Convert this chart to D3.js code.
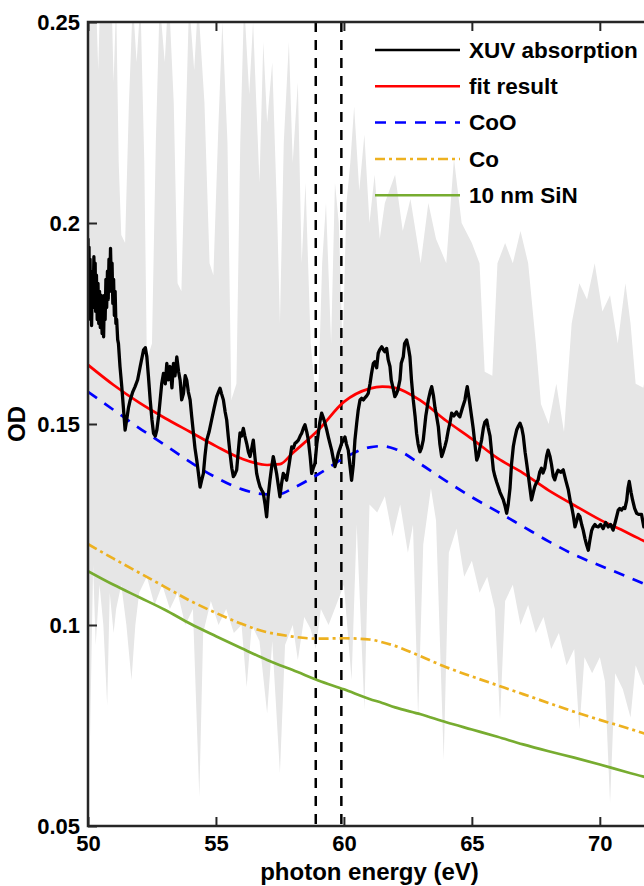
<!DOCTYPE html>
<html>
<head>
<meta charset="utf-8">
<script src="https://cdn.jsdelivr.net/npm/d3@7"></script>
<style>
    body { margin: 0; background: #fff; }
    text { font-family: "Liberation Sans", Arial, Helvetica, sans-serif; font-weight: bold; fill: #000; }
</style>
</head>
<body>
<div class="container"></div>
<script>
// measured XUV absorption, [photon energy (eV), OD]
const xuvAbsorption = [
    [50.00,0.1962],[50.02,0.1790],[50.04,0.1940],[50.06,0.1770],[50.08,0.1910],[50.10,0.1760],[50.12,0.1880],
    [50.14,0.1745],[50.17,0.1860],[50.20,0.1790],[50.23,0.1916],[50.25,0.1820],[50.28,0.1900],[50.30,0.1780],
    [50.33,0.1870],[50.36,0.1760],[50.39,0.1850],[50.42,0.1750],[50.45,0.1830],[50.48,0.1740],[50.52,0.1820],
    [50.55,0.1725],[50.58,0.1800],[50.61,0.1717],[50.64,0.1820],[50.67,0.1760],[50.70,0.1860],[50.73,0.1790],
    [50.76,0.1880],[50.79,0.1810],[50.82,0.1910],[50.85,0.1830],[50.88,0.1937],[50.91,0.1850],[50.94,0.1900],
    [50.97,0.1800],[51.00,0.1860],[51.03,0.1770],[51.06,0.1830],[51.09,0.1750],[51.12,0.1760],[51.16,0.1710],
    [51.19,0.1700],[51.25,0.1643],[51.32,0.1593],[51.38,0.1543],[51.45,0.1485],[51.51,0.1510],[51.58,0.1540],
    [51.65,0.1560],[51.75,0.1580],[51.84,0.1593],[51.94,0.1610],[52.04,0.1643],[52.17,0.1684],[52.24,0.1690],
    [52.30,0.1667],[52.36,0.1620],[52.43,0.1560],[52.50,0.1510],[52.56,0.1477],[52.63,0.1470],[52.69,0.1485],
    [52.76,0.1520],[52.82,0.1560],[52.88,0.1600],[52.95,0.1626],[53.02,0.1600],[53.08,0.1651],[53.14,0.1610],
    [53.21,0.1643],[53.28,0.1590],[53.34,0.1651],[53.40,0.1620],[53.47,0.1667],[53.54,0.1630],[53.60,0.1609],
    [53.66,0.1560],[53.73,0.1576],[53.80,0.1620],[53.86,0.1609],[53.92,0.1580],[53.99,0.1560],[54.05,0.1520],
    [54.12,0.1477],[54.18,0.1440],[54.25,0.1410],[54.31,0.1380],[54.38,0.1343],[54.44,0.1360],[54.51,0.1377],
    [54.57,0.1420],[54.64,0.1460],[54.73,0.1480],[54.83,0.1510],[54.93,0.1540],[55.03,0.1568],[55.10,0.1580],
    [55.16,0.1589],[55.22,0.1575],[55.29,0.1560],[55.36,0.1530],[55.42,0.1510],[55.48,0.1470],[55.55,0.1427],
    [55.62,0.1390],[55.68,0.1369],[55.74,0.1375],[55.81,0.1386],[55.87,0.1430],[55.94,0.1478],[56.00,0.1470],
    [56.07,0.1489],[56.13,0.1470],[56.20,0.1452],[56.27,0.1430],[56.33,0.1419],[56.40,0.1440],[56.46,0.1460],
    [56.52,0.1420],[56.59,0.1377],[56.65,0.1360],[56.72,0.1344],[56.79,0.1335],[56.85,0.1328],[56.92,0.1300],
    [56.98,0.1269],[57.04,0.1320],[57.11,0.1360],[57.17,0.1390],[57.24,0.1419],[57.30,0.1400],[57.37,0.1377],
    [57.43,0.1350],[57.50,0.1319],[57.56,0.1350],[57.63,0.1377],[57.70,0.1370],[57.76,0.1360],[57.86,0.1400],
    [57.96,0.1443],[58.03,0.1440],[58.09,0.1452],[58.15,0.1455],[58.22,0.1460],[58.29,0.1470],[58.35,0.1477],
    [58.42,0.1490],[58.48,0.1498],[58.55,0.1480],[58.61,0.1460],[58.68,0.1420],[58.74,0.1377],[58.80,0.1390],
    [58.87,0.1402],[58.94,0.1450],[59.00,0.1477],[59.06,0.1505],[59.13,0.1527],[59.20,0.1515],[59.26,0.1502],
    [59.33,0.1485],[59.39,0.1468],[59.46,0.1450],[59.52,0.1435],[59.58,0.1415],[59.65,0.1394],[59.72,0.1410],
    [59.78,0.1427],[59.85,0.1440],[59.91,0.1452],[59.98,0.1460],[60.04,0.1468],[60.10,0.1450],[60.17,0.1435],
    [60.24,0.1395],[60.30,0.1360],[60.37,0.1400],[60.43,0.1460],[60.50,0.1502],[60.56,0.1535],[60.63,0.1560],
    [60.69,0.1564],[60.76,0.1560],[60.82,0.1565],[60.89,0.1570],[60.95,0.1576],[61.02,0.1600],[61.08,0.1626],
    [61.15,0.1651],[61.21,0.1655],[61.28,0.1640],[61.34,0.1676],[61.40,0.1685],[61.48,0.1692],[61.54,0.1685],
    [61.60,0.1680],[61.67,0.1688],[61.73,0.1660],[61.80,0.1643],[61.85,0.1609],[61.92,0.1590],[61.99,0.1568],
    [62.05,0.1575],[62.11,0.1585],[62.19,0.1610],[62.24,0.1651],[62.32,0.1667],[62.37,0.1700],[62.45,0.1709],
    [62.52,0.1690],[62.58,0.1667],[62.64,0.1610],[62.71,0.1560],[62.78,0.1520],[62.84,0.1477],[62.90,0.1450],
    [62.97,0.1431],[63.03,0.1440],[63.10,0.1460],[63.20,0.1520],[63.30,0.1560],[63.37,0.1580],[63.43,0.1593],
    [63.50,0.1570],[63.56,0.1540],[63.62,0.1520],[63.69,0.1493],[63.75,0.1450],[63.82,0.1419],[63.88,0.1430],
    [63.95,0.1445],[64.01,0.1460],[64.08,0.1485],[64.15,0.1505],[64.21,0.1527],[64.30,0.1520],[64.40,0.1530],
    [64.47,0.1522],[64.53,0.1518],[64.63,0.1540],[64.73,0.1560],[64.78,0.1580],[64.82,0.1593],[64.90,0.1560],
    [64.99,0.1518],[65.05,0.1490],[65.12,0.1450],[65.19,0.1410],[65.25,0.1420],[65.31,0.1440],[65.38,0.1460],
    [65.45,0.1490],[65.51,0.1505],[65.58,0.1510],[65.64,0.1490],[65.71,0.1470],[65.77,0.1430],[65.84,0.1386],
    [65.90,0.1370],[65.97,0.1355],[66.03,0.1344],[66.10,0.1330],[66.17,0.1320],[66.23,0.1311],[66.30,0.1295],
    [66.36,0.1278],[66.42,0.1300],[66.49,0.1340],[66.55,0.1400],[66.62,0.1444],[66.68,0.1465],[66.75,0.1485],
    [66.82,0.1495],[66.88,0.1502],[66.95,0.1490],[67.01,0.1470],[67.08,0.1430],[67.14,0.1403],[67.21,0.1370],
    [67.27,0.1340],[67.33,0.1311],[67.40,0.1330],[67.46,0.1345],[67.53,0.1355],[67.59,0.1361],[67.65,0.1380],
    [67.72,0.1390],[67.78,0.1378],[67.85,0.1390],[67.92,0.1420],[67.98,0.1435],[68.05,0.1420],[68.11,0.1400],
    [68.18,0.1370],[68.24,0.1361],[68.30,0.1375],[68.37,0.1385],[68.47,0.1380],[68.57,0.1386],[68.67,0.1360],
    [68.77,0.1336],[68.84,0.1310],[68.90,0.1294],[68.97,0.1270],[69.03,0.1244],[69.10,0.1260],[69.16,0.1275],
    [69.22,0.1270],[69.29,0.1250],[69.35,0.1236],[69.42,0.1215],[69.48,0.1200],[69.55,0.1186],[69.61,0.1210],
    [69.68,0.1235],[69.74,0.1244],[69.81,0.1250],[69.87,0.1245],[69.94,0.1244],[70.03,0.1250],[70.13,0.1240],
    [70.23,0.1255],[70.33,0.1244],[70.42,0.1250],[70.52,0.1236],[70.62,0.1260],[70.72,0.1286],[70.78,0.1290],
    [70.85,0.1286],[70.92,0.1292],[70.98,0.1290],[71.05,0.1310],[71.10,0.1340],[71.15,0.1357],[71.22,0.1330],
    [71.28,0.1311],[71.36,0.1290],[71.44,0.1278],[71.53,0.1275],[71.63,0.1275],[71.72,0.1244],[71.85,0.1260],
    [72.00,0.1250]
];

// upper and lower edge of the grey uncertainty band
const bandUpper = [
    [50.0,0.262],[50.3,0.258],[50.4,0.238],[50.5,0.262],[50.9,0.262],[51.0,0.235],[51.1,0.255],[51.2,0.215],
    [51.3,0.197],[51.45,0.195],[51.6,0.230],[51.75,0.255],[51.9,0.240],[52.05,0.255],[52.2,0.215],[52.3,0.166],
    [52.5,0.170],[52.65,0.220],[52.8,0.255],[53.0,0.240],[53.15,0.258],[53.35,0.230],[53.5,0.185],[53.65,0.183],
    [53.8,0.220],[53.95,0.255],[54.15,0.238],[54.3,0.255],[54.55,0.230],[54.75,0.190],[54.9,0.187],[55.1,0.225],
    [55.25,0.250],[55.45,0.220],[55.6,0.156],[55.8,0.160],[55.95,0.220],[56.1,0.255],[56.3,0.232],[56.45,0.250],
    [56.7,0.210],[56.85,0.245],[57.0,0.225],[57.2,0.240],[57.4,0.200],[57.5,0.175],[57.65,0.220],[57.85,0.245],
    [58.0,0.215],[58.2,0.235],[58.35,0.190],[58.5,0.210],[58.7,0.170],[58.85,0.160],[59.0,0.158],[59.15,0.190],
    [59.3,0.205],[59.5,0.170],[59.65,0.210],[59.8,0.200],[59.95,0.168],[60.1,0.205],[60.25,0.215],[60.4,0.229],
    [60.6,0.208],[60.8,0.222],[61.0,0.200],[61.2,0.212],[61.4,0.196],[61.6,0.205],[62.0,0.212],[62.3,0.198],
    [62.6,0.206],[63.0,0.190],[63.3,0.205],[63.6,0.196],[64.0,0.190],[64.3,0.216],[64.6,0.200],[65.0,0.195],
    [65.3,0.190],[65.5,0.163],[65.8,0.162],[66.0,0.190],[66.3,0.195],[66.6,0.190],[66.9,0.198],[67.2,0.190],
    [67.5,0.170],[67.7,0.155],[68.0,0.150],[68.3,0.160],[68.6,0.148],[68.9,0.175],[69.2,0.185],[69.5,0.181],
    [69.8,0.190],[70.1,0.178],[70.4,0.182],[70.7,0.170],[71.0,0.185],[71.2,0.175],[71.4,0.160],[71.7,0.159],
    [72.0,0.170]
];
const bandLower = [
    [50.0,0.130],[50.08,0.072],[50.2,0.115],[50.3,0.095],[50.45,0.110],[50.6,0.100],[50.75,0.080],[50.85,0.108],
    [51.0,0.098],[51.1,0.104],[51.3,0.110],[51.5,0.100],[51.7,0.0863],[51.85,0.100],[52.0,0.108],[52.3,0.112],
    [52.6,0.105],[52.9,0.110],[53.2,0.104],[53.5,0.108],[53.8,0.100],[54.1,0.104],[54.35,0.0572],[54.5,0.098],
    [54.8,0.106],[55.1,0.100],[55.4,0.104],[55.7,0.098],[56.0,0.100],[56.2,0.0846],[56.4,0.100],[56.7,0.096],
    [57.0,0.078],[57.2,0.096],[57.5,0.0632],[57.7,0.095],[58.0,0.100],[58.2,0.0913],[58.45,0.102],[58.7,0.099],
    [58.9,0.094],[59.1,0.104],[59.4,0.100],[59.7,0.105],[60.0,0.110],[60.3,0.0863],[60.5,0.125],[60.8,0.0789],
    [61.0,0.130],[61.3,0.128],[61.6,0.132],[61.9,0.122],[62.2,0.130],[62.5,0.118],[62.7,0.125],[62.9,0.077],
    [63.1,0.120],[63.4,0.134],[63.6,0.126],[63.9,0.0664],[64.1,0.118],[64.4,0.124],[64.7,0.112],[65.0,0.116],
    [65.3,0.108],[65.6,0.112],[65.9,0.104],[66.1,0.0764],[66.3,0.106],[66.6,0.110],[66.9,0.100],[67.2,0.105],
    [67.5,0.098],[67.8,0.102],[68.1,0.094],[68.4,0.098],[68.7,0.090],[69.0,0.094],[69.2,0.074],[69.4,0.092],
    [69.7,0.088],[70.0,0.092],[70.2,0.086],[70.4,0.0557],[70.6,0.088],[70.9,0.084],[71.2,0.077],[71.4,0.090],
    [71.7,0.085],[72.0,0.088]
];

// model curves
const modelEnergy = [50,51,52,53,54,55,56,57,57.5,58,59,60,61,61.5,62,63,64,65,66,67,68,69,70,71,72,73];
const fitResult = [0.1647,0.1597,0.1553,0.1515,0.1480,0.1445,0.1414,0.1398,0.1400,0.1428,0.1485,0.1555,0.1588,
    0.1593,0.1590,0.1558,0.1508,0.1463,0.1415,0.1378,0.1335,0.1298,0.1262,0.1232,0.1200,0.1170];
const coo = [0.1580,0.1535,0.1490,0.1448,0.1405,0.1367,0.1338,0.1325,0.1326,0.1340,0.1375,0.1415,0.1442,
    0.1445,0.1438,0.1400,0.1358,0.1318,0.1282,0.1245,0.1208,0.1175,0.1148,0.1122,0.1095,0.1070];
const coMetal = [0.1201,0.1165,0.1130,0.1095,0.1060,0.1030,0.1003,0.0982,0.0976,0.0971,0.0966,0.0967,0.0964,
    0.0957,0.0948,0.0922,0.0895,0.0872,0.0850,0.0828,0.0806,0.0784,0.0764,0.0745,0.0725,0.0707];
const siN = [0.1134,0.1100,0.1069,0.1038,0.1003,0.0972,0.0942,0.0913,0.0900,0.0888,0.0862,0.0840,0.0816,
    0.0806,0.0795,0.0778,0.0758,0.0740,0.0722,0.0703,0.0686,0.0670,0.0653,0.0635,0.0618,0.0603];

const edgeMarkers = [58.9, 59.9];
const xTicks = [50, 55, 60, 65, 70];
const yTicks = [0.05, 0.1, 0.15, 0.2, 0.25];

const legendItems = [
    {label: 'XUV absorption', color: '#000000', dash: null},
    {label: 'fit result', color: '#ff0000', dash: null},
    {label: 'CoO', color: '#0000ff', dash: '11,9'},
    {label: 'Co', color: '#EDB120', dash: '10,4,3,4'},
    {label: '10 nm SiN', color: '#77AC30', dash: null}
];

let width = 644;
let height = 886;
let margin = {left: 88, top: 22, right: 651, bottom: 826};

const svg = d3.select('.container')
    .append('svg')
    .attr('width', width)
    .attr('height', height);

let x = d3.scaleLinear().domain([50, 72]).range([margin.left, margin.right]);
let y = d3.scaleLinear().domain([0.05, 0.25]).range([margin.bottom, margin.top]);

svg.append('clipPath').attr('id', 'plot-clip')
    .append('rect')
    .attr('x', margin.left).attr('y', margin.top)
    .attr('width', margin.right - margin.left).attr('height', margin.bottom - margin.top);

let plot = svg.append('g').attr('clip-path', 'url(#plot-clip)');

let line = d3.line().x(d => x(d[0])).y(d => y(d[1]));
let smooth = d3.line().x(d => x(d[0])).y(d => y(d[1])).curve(d3.curveMonotoneX);

//grey band: upper edge left to right, lower edge back
let band = bandUpper.concat(bandLower.slice().reverse());
plot.append('path')
    .attr('d', line(band) + 'Z')
    .attr('fill', '#e6e6e6')
    .attr('stroke', 'none');

//vertical markers
plot.selectAll('.marker')
    .data(edgeMarkers)
    .enter()
    .append('line')
    .attr('class', 'marker')
    .attr('x1', d => x(d)).attr('x2', d => x(d))
    .attr('y1', margin.top).attr('y2', margin.bottom)
    .attr('stroke', '#000')
    .attr('stroke-width', 2.5)
    .attr('stroke-dasharray', '10,8');

function modelSeries(values) {
    return modelEnergy.map((e, i) => [e, values[i]]);
}

let curves = [
    {data: modelSeries(siN), style: legendItems[4]},
    {data: modelSeries(coMetal), style: legendItems[3]},
    {data: modelSeries(coo), style: legendItems[2]},
    {data: modelSeries(fitResult), style: legendItems[1]}
];

curves.forEach(c => {
    plot.append('path')
        .attr('d', smooth(c.data))
        .attr('fill', 'none')
        .attr('stroke', c.style.color)
        .attr('stroke-width', 2.7)
        .attr('stroke-dasharray', c.style.dash);
});

plot.append('path')
    .attr('d', line(xuvAbsorption))
    .attr('fill', 'none')
    .attr('stroke', '#000')
    .attr('stroke-width', 3.3)
    .attr('stroke-linejoin', 'round');

//axes
let axisColor = '#262626';

let xAxis = svg.append('g')
    .attr('transform', 'translate(0,' + margin.bottom + ')')
    .call(d3.axisBottom(x).tickValues(xTicks).tickSize(-9).tickPadding(9).tickFormat(d3.format('d')));

let xAxisTop = svg.append('g')
    .attr('transform', 'translate(0,' + margin.top + ')')
    .call(d3.axisTop(x).tickValues(xTicks).tickSize(-9).tickFormat(''));

let yAxis = svg.append('g')
    .attr('transform', 'translate(' + margin.left + ',0)')
    .call(d3.axisLeft(y).tickValues(yTicks).tickSize(-9).tickPadding(8).tickFormat(d3.format('~g')));

[xAxis, xAxisTop, yAxis].forEach(a => {
    a.select('.domain').remove();
    a.selectAll('.tick line').attr('stroke', axisColor).attr('stroke-width', 2);
    a.selectAll('.tick text').style('font-size', '22px').attr('fill', '#000');
});

svg.append('rect')
    .attr('x', margin.left).attr('y', margin.top)
    .attr('width', margin.right - margin.left).attr('height', margin.bottom - margin.top)
    .attr('fill', 'none')
    .attr('stroke', axisColor)
    .attr('stroke-width', 2.5);

svg.append('text')
    .attr('x', (margin.left + margin.right) / 2)
    .attr('y', 880)
    .attr('text-anchor', 'middle')
    .style('font-size', '24px')
    .text('photon energy (eV)');

svg.append('text')
    .attr('transform', 'translate(25,' + (margin.top + margin.bottom) / 2 + ') rotate(-90)')
    .attr('text-anchor', 'middle')
    .style('font-size', '24px')
    .text('OD');

//legend
let legend = svg.append('g').attr('transform', 'translate(375,50)');
let rows = legend.selectAll('g')
    .data(legendItems)
    .enter()
    .append('g')
    .attr('transform', (d, i) => 'translate(0,' + i * 36.3 + ')');

rows.append('line')
    .attr('x1', 0).attr('x2', 85)
    .attr('y1', 0).attr('y2', 0)
    .attr('stroke', d => d.color)
    .attr('stroke-width', 2.5)
    .attr('stroke-dasharray', d => d.dash);

rows.append('text')
    .attr('x', 94)
    .attr('y', 0)
    .attr('dy', '0.35em')
    .style('font-size', '22.5px')
    .text(d => d.label);
</script>
</body>
</html>
